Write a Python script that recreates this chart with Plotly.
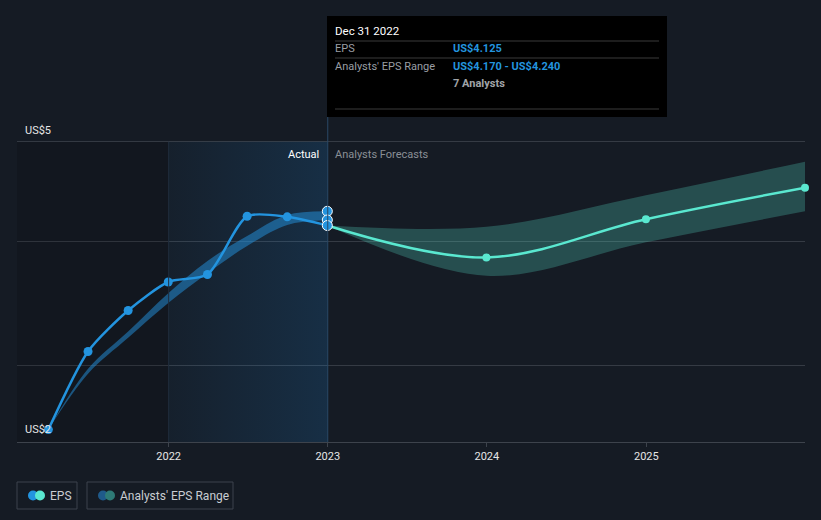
import plotly.graph_objects as go

# ---------------- data ----------------
eps_dates = ["2021-03-31", "2021-06-30", "2021-09-30", "2021-12-31",
             "2022-03-31", "2022-06-30", "2022-09-30", "2022-12-31"]
eps_values = [2.48, 3.11, 3.44, 3.67, 3.73, 4.20, 4.195, 4.125]

range_dates = ["2021-03-31", "2021-06-30", "2021-09-30", "2021-12-31",
               "2022-03-31", "2022-06-30", "2022-09-30", "2022-12-31"]
range_high = [2.48, 2.97, 3.27, 3.58, 3.84, 4.04, 4.21, 4.24]
range_low = [2.48, 2.93, 3.22, 3.50, 3.74, 3.96, 4.13, 4.17]

fc_dates = ["2022-12-31", "2023-12-31", "2024-12-31", "2025-12-31"]
fc_values = [4.125, 3.867, 4.176, 4.43]
fc_high = [4.125, 4.115, 4.37, 4.64]
fc_low = [4.125, 3.72, 3.99, 4.24]

x_ticks = ["2022-01-01", "2023-01-01", "2024-01-01", "2025-01-01"]
x_tick_labels = ["2022", "2023", "2024", "2025"]
grid_ticks = [3, 4, 4.8]
grid_tick_labels = ["", "", "US$5"]
low_tick = [2.48]
low_tick_label = ["US$2"]

x_range = ["2021-01-18", "2025-12-31"]
y_range = [2.38, 5.0]
chart_top = 4.8
actual_start = "2022-01-01"
actual_end = "2023-01-01"

# ---------------- styling ----------------
BG = "#151b24"
BLUE = "#2394df"
MINT = "#5ae8d0"
GRID = "#353b44"
FONT = "Roboto"

W, H = 821, 520
L, R, T, B = 17, 805, 117, 442


def px(x):
    return (x - L) / (R - L)


def py(y):
    return (B - y) / (B - T)


fig = go.Figure()

# actual-period shaded region (gradient)
fig.add_trace(go.Scatter(
    x=[actual_start, actual_end, actual_end, actual_start, actual_start],
    y=[y_range[0], y_range[0], chart_top, chart_top, y_range[0]],
    mode="lines", line=dict(width=0), fill="toself",
    fillgradient=dict(type="horizontal",
                      colorscale=[[0, "rgba(33,150,243,0.04)"],
                                  [1, "rgba(33,150,243,0.16)"]]),
    hoverinfo="skip", showlegend=False))
# darker pre-actual region
fig.add_trace(go.Scatter(
    x=[x_range[0], actual_start, actual_start, x_range[0], x_range[0]],
    y=[y_range[0], y_range[0], chart_top, chart_top, y_range[0]],
    mode="lines", line=dict(width=0), fill="toself", fillcolor="rgba(0,0,0,0.12)",
    hoverinfo="skip", showlegend=False))

# past analysts range band
fig.add_trace(go.Scatter(x=range_dates, y=range_high, mode="lines",
                         line=dict(width=0, shape="spline", color="rgba(35,148,223,0.5)"),
                         hoverinfo="skip", showlegend=False))
fig.add_trace(go.Scatter(x=range_dates, y=range_low, mode="lines",
                         line=dict(width=0, shape="spline", color="rgba(35,148,223,0.5)"),
                         fill="tonexty", fillcolor="rgba(35,148,223,0.5)",
                         hoverinfo="skip", showlegend=False))

# forecast band
fig.add_trace(go.Scatter(x=fc_dates, y=fc_high, mode="lines",
                         line=dict(width=0, shape="spline", color="rgba(90,232,208,0.25)"),
                         hoverinfo="skip", showlegend=False))
fig.add_trace(go.Scatter(x=fc_dates, y=fc_low, mode="lines",
                         line=dict(width=0, shape="spline", color="rgba(90,232,208,0.25)"),
                         fill="tonexty", fillcolor="rgba(90,232,208,0.25)",
                         hoverinfo="skip", showlegend=False))

# forecast line
fig.add_trace(go.Scatter(x=fc_dates[1:], y=fc_values[1:], mode="markers",
                         marker=dict(size=8, color=MINT),
                         hoverinfo="skip", showlegend=False, cliponaxis=False))
fig.add_trace(go.Scatter(x=fc_dates, y=fc_values, mode="lines",
                         line=dict(width=2.5, color=MINT, shape="spline"),
                         hoverinfo="skip", showlegend=False))

# EPS line
fig.add_trace(go.Scatter(x=eps_dates, y=eps_values, mode="lines+markers",
                         line=dict(width=2.5, color=BLUE, shape="spline", smoothing=0.7),
                         marker=dict(size=9, color=BLUE),
                         hoverinfo="skip", showlegend=False, cliponaxis=False))

# hover markers at the last actual date
fig.add_trace(go.Scatter(x=[range_dates[-1]] * 3,
                         y=[range_high[-1], range_low[-1], eps_values[-1]],
                         mode="markers",
                         marker=dict(size=10, color=BLUE, line=dict(color="white", width=1)),
                         hoverinfo="skip", showlegend=False, cliponaxis=False))

shapes = [
    dict(type="line", xref="x", yref="y", x0=actual_start, x1=actual_start,
         y0=y_range[0], y1=chart_top, line=dict(color="#1f2d3d", width=1)),
    # hover line
    dict(type="line", xref="x", yref="paper", x0=actual_end, x1=actual_end,
         y0=0, y1=1, line=dict(color="#2a4966", width=1)),
    # tooltip
    dict(type="rect", xref="paper", yref="paper", x0=px(327), x1=px(667),
         y0=py(117), y1=py(16), fillcolor="#000000", line=dict(width=0)),
]
for yy in [41, 58, 109]:
    shapes.append(dict(type="line", xref="paper", yref="paper", x0=px(335), x1=px(659),
                       y0=py(yy), y1=py(yy), line=dict(color="#3a3a3a", width=1)))

# legend boxes
shapes.append(dict(type="rect", xref="paper", yref="paper", x0=px(17), x1=px(77),
                   y0=py(509), y1=py(482), line=dict(color="#3d434c", width=1),
                   fillcolor="rgba(0,0,0,0)"))
shapes.append(dict(type="rect", xref="paper", yref="paper", x0=px(87), x1=px(233),
                   y0=py(509), y1=py(482), line=dict(color="#3d434c", width=1),
                   fillcolor="rgba(0,0,0,0)"))


def circle(cx, cy, r, color):
    return dict(type="circle", xref="paper", yref="paper",
                x0=px(cx - r), x1=px(cx + r), y0=py(cy + r), y1=py(cy - r),
                fillcolor=color, line=dict(width=0))


shapes += [circle(33, 495.5, 5, BLUE), circle(40, 495.5, 5, MINT),
           circle(103, 495.5, 5, "#1f5a8a"), circle(110, 495.5, 5, "#2e7a76")]

ann = []


def text(x, y, s, color, size=11, anchor="left", weight="normal"):
    ann.append(dict(xref="paper", yref="paper", x=px(x), y=py(y), text=s,
                    showarrow=False, xanchor=anchor, yanchor="middle",
                    borderpad=0, borderwidth=0,
                    font=dict(family=FONT, size=size, color=color, weight=weight)))


text(335, 31, "Dec 31 2022", "#ffffff", 11.5)
text(335, 49, "EPS", "#9a9ea4")
text(453, 49, "US$4.125", BLUE, weight="bold")
text(335, 66, "Analysts' EPS Range", "#9a9ea4")
text(453, 66, "US$4.170 - US$4.240", BLUE, weight="bold")
text(453, 83, "7 Analysts", "#a0a4a8", weight="bold")
text(319, 154, "Actual", "#ffffff", anchor="right")
text(335, 154, "Analysts Forecasts", "#8a8f96")
text(50, 495.5, "EPS", "#c9cdd2", 12)
text(120, 495.5, "Analysts' EPS Range", "#c9cdd2", 12)

fig.update_layout(
    width=W, height=H,
    margin=dict(l=L, r=W - R, t=T, b=H - B, pad=0),
    paper_bgcolor=BG, plot_bgcolor=BG,
    showlegend=False,
    shapes=shapes, annotations=ann,
    font=dict(family=FONT, color="#ffffff"),
    yaxis=dict(range=y_range, tickvals=grid_ticks, ticktext=grid_tick_labels,
               showgrid=True, gridcolor=GRID, gridwidth=1, zeroline=False,
               showline=False, ticks="", ticklabelposition="inside top",
               ticklabelstandoff=5, ticklabelshift=-4,
               tickfont=dict(family=FONT, size=11, color="#e6e6e6")),
    yaxis2=dict(overlaying="y", side="left", range=y_range, tickvals=low_tick,
                ticktext=low_tick_label, showgrid=False, zeroline=False, showline=False,
                ticks="", ticklabelposition="inside", ticklabelstandoff=5,
                tickfont=dict(family=FONT, size=11, color="#e6e6e6")),
)
fig.update_xaxes(type="date", range=x_range, tickvals=x_ticks, ticktext=x_tick_labels,
                 showgrid=False, zeroline=False, showline=True, linecolor="#3d434c",
                 ticks="outside", ticklen=4, tickcolor="#3d434c",
                 tickfont=dict(family=FONT, size=11, color="#e6e6e6"))

# invisible carrier so yaxis2 is rendered
fig.add_trace(go.Scatter(x=[eps_dates[0]], y=[eps_values[0]], yaxis="y2", mode="markers",
                         marker=dict(size=1, opacity=0), hoverinfo="skip", showlegend=False))

fig.write_html("out.html", config={"displayModeBar": False},
               post_script="document.body.style.margin='0px';")
